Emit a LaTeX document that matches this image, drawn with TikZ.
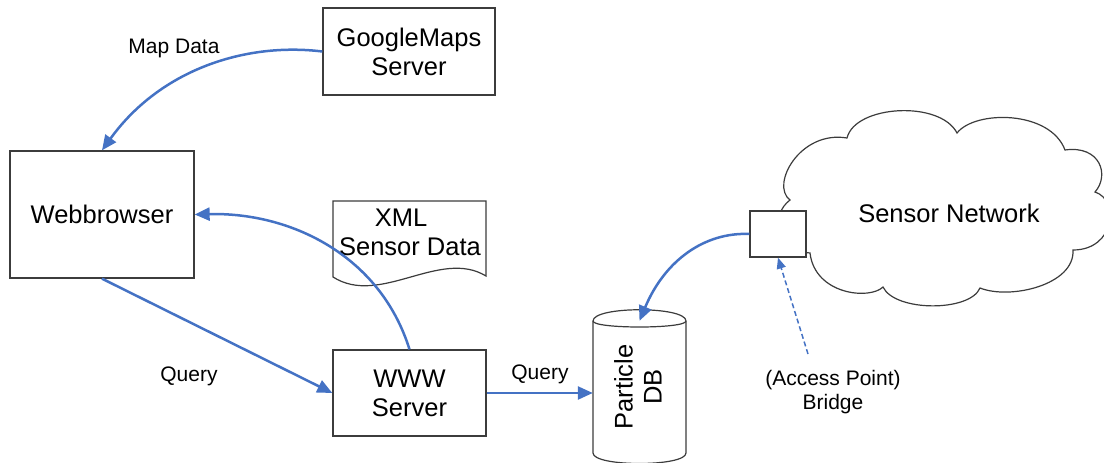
\documentclass[tikz,border=0pt]{standalone}
\usepackage{fontspec}
\setmainfont{Liberation Sans}
\usetikzlibrary{arrows.meta}
\definecolor{arrowblue}{RGB}{68,114,196}
\definecolor{boxline}{RGB}{60,60,60}
\begin{document}
\begin{tikzpicture}[x=1pt,y=-1pt,
  big/.style={font=\fontsize{25.5}{29}\selectfont},
  box/.style={draw=boxline, line width=1.3pt, fill=white, inner sep=0pt, align=center, big},
  lbl/.style={font=\fontsize{21}{24}\selectfont, align=center, inner sep=0pt},
  flow/.style={draw=arrowblue, line width=2.5pt, -{Triangle[length=15pt,width=13pt]}},
  dashflow/.style={draw=arrowblue, line width=1.5pt, dash pattern=on 5pt off 3pt, -{Triangle[length=11pt,width=9pt]}},
  outline/.style={draw=boxline, line width=1.2pt}]
\useasboundingbox (0,0) rectangle (1104,463);

% boxes
\node[box, minimum width=172pt, minimum height=87pt] (gm) at (409,51.5) {GoogleMaps\\Server};
\node[box, minimum width=184pt, minimum height=127pt] (wb) at (102,214.5) {Webbrowser};
\node[box, minimum width=153pt, minimum height=86pt] (www) at (409.5,393) {WWW\\Server};

% XML document
\draw[outline, fill=white] (333,201) -- (486,201) -- (486,276) .. controls (440,248) and (380,307) .. (333,277) -- cycle;
\node[align=center, big, inner sep=0pt] (xml) at (410,232) {\hspace*{-18pt}XML\\Sensor Data};

% cloud
\draw[outline, fill=white] (790,200) .. controls (770,185) and (800,130) .. (847,138)
  .. controls (855,105) and (940,100) .. (957,133)
  .. controls (975,110) and (1050,110) .. (1065,150)
  .. controls (1100,145) and (1110,175) .. (1095,192)
  .. controls (1120,200) and (1115,250) .. (1073,250)
  .. controls (1075,285) and (1010,300) .. (980,288)
  .. controls (970,312) and (895,312) .. (883,287)
  .. controls (870,300) and (815,295) .. (810,253)
  .. controls (775,250) and (770,215) .. (790,200) -- cycle;
\node[big, inner sep=0pt] (sn) at (949,213) {Sensor Network};

% bridge
\node[box, minimum width=56pt, minimum height=46pt] (br) at (778,234) {};

% database cylinder
\draw[outline, fill=white] (593,321) .. controls (593,306) and (686,306) .. (686,321) -- (686,453)
  .. controls (686,467) and (593,467) .. (593,453) -- cycle;
\draw[outline] (593,321) .. controls (593,329) and (686,329) .. (686,321);
\node[minimum width=93pt, minimum height=137pt, inner sep=0pt] (db) at (639.5,389.5) {};
\node[rotate=90, align=center, big, inner sep=0pt] (dbtext) at (638,387) {Particle\\DB};

% connectors
\draw[flow] (gm.west) .. controls (245,42) and (160,70) .. (wb.north);
\draw[flow] (www.north) .. controls (380,255) and (290,212) .. (wb.east);
\draw[flow] (wb.south) -- (www.west);
\draw[flow] (www.east) -- (www.east -| db.west);
\draw[flow] (br.west) .. controls (705,232) and (665,260) .. (db.north);
\coordinate (apfoot) at (808,354);
\draw[dashflow] (apfoot) -- (br.south);

% labels
\node[lbl] (mapdata) at (174,48) {Map Data};
\node[lbl] (q1) at (189,376) {Query};
\node[lbl] (q2) at (540,374) {Query};
\node[lbl] (ap) at (833,392) {(Access Point)\\Bridge};
\end{tikzpicture}
\end{document}
